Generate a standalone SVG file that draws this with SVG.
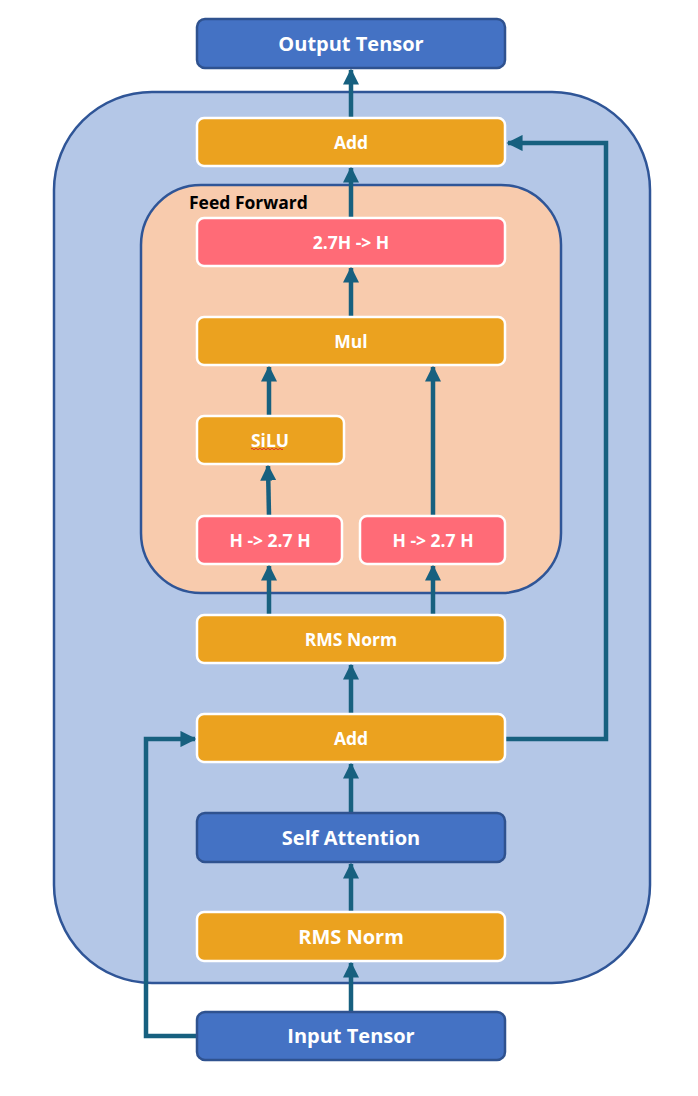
<svg xmlns="http://www.w3.org/2000/svg" width="698" height="1096" viewBox="0 0 698 1096">
<style>
.blue{fill:#4472C4;stroke:#2F528F;stroke-width:2.5}
.org{fill:#EBA21F;stroke:#FFFFFF;stroke-width:2.5}
.pink{fill:#FF6B77;stroke:#FFFFFF;stroke-width:2.5}
.t{font-family:"Open Sans","Liberation Sans",sans-serif;font-weight:bold;fill:#FFFFFF;text-anchor:middle;dominant-baseline:central}
.big{font-size:20px}
.sm{font-size:17.5px}
.c{fill:none;stroke:#17607F;stroke-width:4.5}
</style>
<defs>
<marker id="ah" viewBox="0 0 10 10" refX="9" refY="5" markerWidth="3.6" markerHeight="3.6" markerUnits="strokeWidth" orient="auto">
<path d="M0,0 L10,5 L0,10 Z" fill="#17607F"/>
</marker>
</defs>
<rect id="outer" x="54" y="92" width="596" height="891" rx="98" ry="98" fill="#B4C7E7" stroke="#2F5597" stroke-width="2.5"/>
<g id="feedforward">
<rect x="141" y="185" width="420" height="408" rx="60" ry="60" fill="#F8CBAD" stroke="#2F5597" stroke-width="2.5"/>
<text x="189" y="202" font-family="'Open Sans','Liberation Sans',sans-serif" font-weight="bold" font-size="17.5" fill="#000000" dominant-baseline="central">Feed Forward</text>
</g>
<g id="connectors">
<line class="c" x1="351" y1="1012" x2="351" y2="963" marker-end="url(#ah)"/>
<line class="c" x1="351" y1="912" x2="351" y2="864" marker-end="url(#ah)"/>
<line class="c" x1="351" y1="813" x2="351" y2="764" marker-end="url(#ah)"/>
<line class="c" x1="351" y1="714" x2="351" y2="665" marker-end="url(#ah)"/>
<line class="c" x1="269" y1="615" x2="269" y2="566" marker-end="url(#ah)"/>
<line class="c" x1="433" y1="615" x2="433" y2="566" marker-end="url(#ah)"/>
<line class="c" x1="269" y1="516" x2="268" y2="466" marker-end="url(#ah)"/>
<line class="c" x1="269" y1="416" x2="269" y2="367" marker-end="url(#ah)"/>
<line class="c" x1="433" y1="516" x2="433" y2="367" marker-end="url(#ah)"/>
<line class="c" x1="351" y1="317" x2="351" y2="268" marker-end="url(#ah)"/>
<line class="c" x1="351" y1="218" x2="351" y2="168" marker-end="url(#ah)"/>
<line class="c" x1="351" y1="118" x2="351" y2="70" marker-end="url(#ah)"/>
<polyline class="c" points="198,1036 146,1036 146,739 195,739" marker-end="url(#ah)"/>
<polyline class="c" points="505,739 606,739 606,143 508,143" marker-end="url(#ah)"/>
</g>
<g id="output"><rect class="blue" x="197" y="19" width="308" height="49" rx="8"/><text class="t big" x="351" y="43">Output Tensor</text></g>
<g id="add2"><rect class="org" x="197" y="118" width="308" height="48" rx="7"/><text class="t sm" x="351" y="142">Add</text></g>
<g id="down"><rect class="pink" x="197" y="218" width="308" height="48" rx="7"/><text class="t sm" x="351" y="242">2.7H -&gt; H</text></g>
<g id="mul"><rect class="org" x="197" y="317" width="308" height="48" rx="7"/><text class="t sm" x="351" y="341">Mul</text></g>
<g id="silu"><rect class="org" x="197" y="416" width="147" height="48" rx="7"/><text class="t sm" x="270" y="440">SiLU</text>
<path d="M251,449 q1,-1.5 2,0 t2,0 t2,0 t2,0 t2,0 t2,0 t2,0 t2,0 t2,0 t2,0 t2,0 t2,0 t2,0 t2,0 t2,0 t2,0" fill="none" stroke="#E0302A" stroke-width="1"/></g>
<g id="upL"><rect class="pink" x="197" y="516" width="145" height="48" rx="7"/><text class="t sm" x="270" y="540">H -&gt; 2.7 H</text></g>
<g id="upR"><rect class="pink" x="360" y="516" width="145" height="48" rx="7"/><text class="t sm" x="433" y="540">H -&gt; 2.7 H</text></g>
<g id="rms2"><rect class="org" x="197" y="615" width="308" height="48" rx="7"/><text class="t sm" x="351" y="639">RMS Norm</text></g>
<g id="add1"><rect class="org" x="197" y="714" width="308" height="48" rx="7"/><text class="t sm" x="351" y="738">Add</text></g>
<g id="attn"><rect class="blue" x="197" y="813" width="308" height="49" rx="8"/><text class="t big" x="351" y="837">Self Attention</text></g>
<g id="rms1"><rect class="org" x="197" y="912" width="308" height="49" rx="7"/><text class="t big" x="351" y="936">RMS Norm</text></g>
<g id="input"><rect class="blue" x="197" y="1012" width="308" height="48" rx="8"/><text class="t big" x="351" y="1035">Input Tensor</text></g>
</svg>
